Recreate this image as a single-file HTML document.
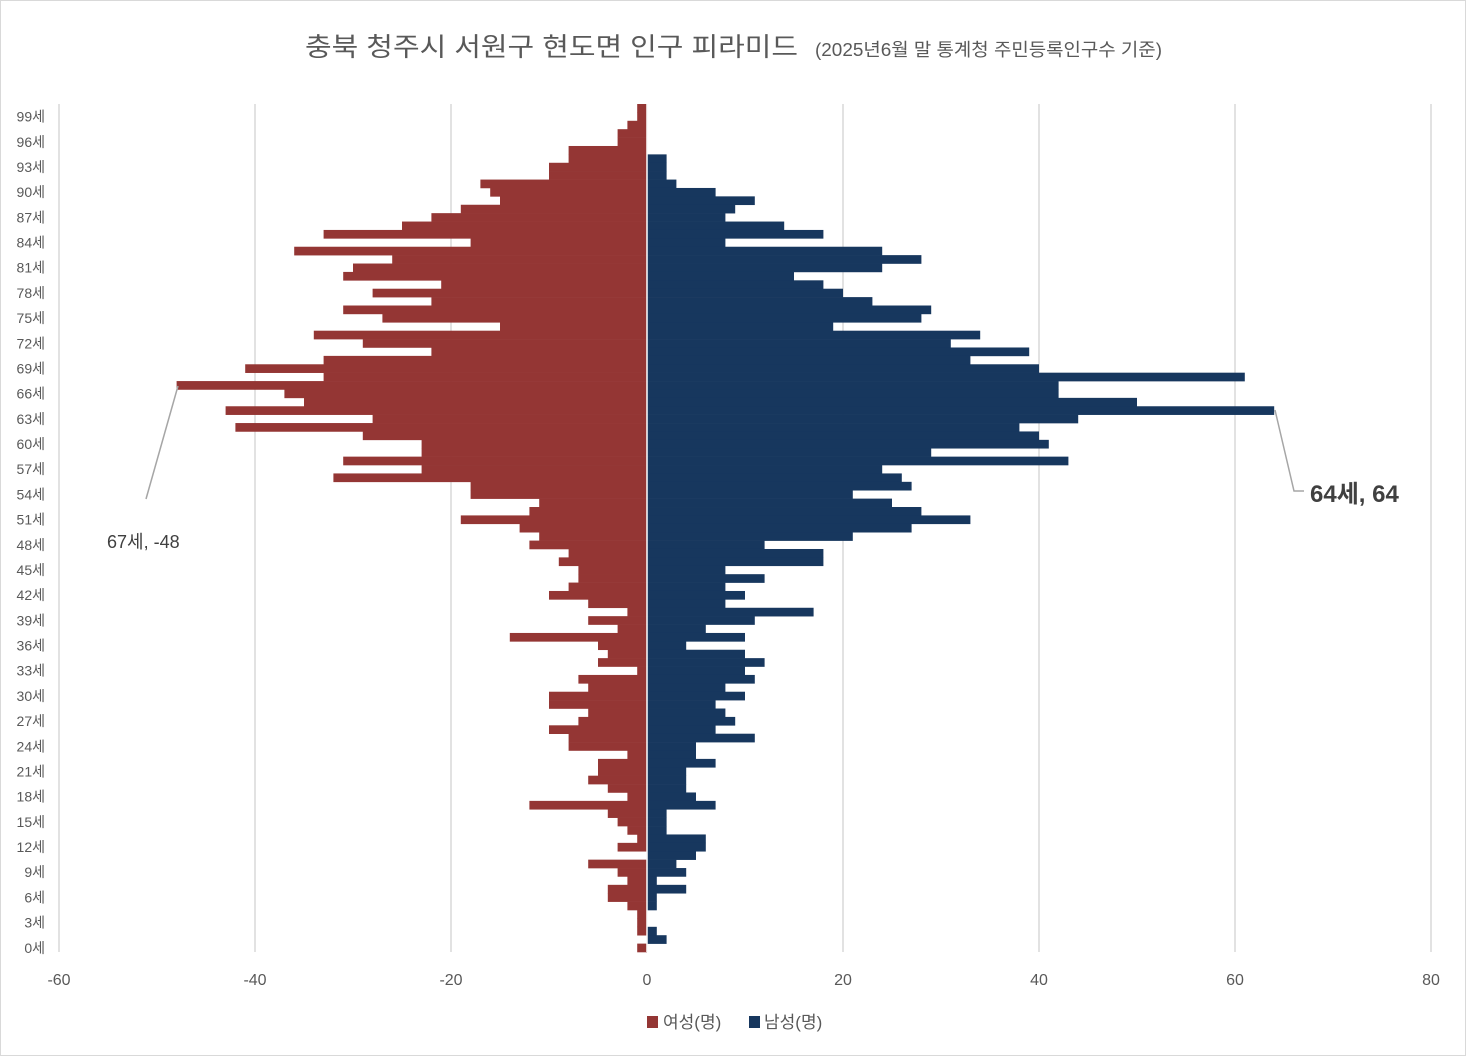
<!DOCTYPE html>
<html><head><meta charset="utf-8">
<style>
html,body{margin:0;padding:0;background:#fff;}
svg{display:block;font-family:"Liberation Sans","Noto Sans CJK KR",sans-serif;}
</style></head>
<body>
<svg id="chart" width="1466" height="1056" viewBox="0 0 1466 1056">
  <rect x="0.5" y="0.5" width="1465" height="1055" fill="#fff" stroke="#d9d9d9"/>
  <g>
    <text x="305" y="56" font-size="26" fill="#595959" textLength="493" lengthAdjust="spacingAndGlyphs">충북 청주시 서원구 현도면 인구 피라미드</text>
    <text x="815" y="56" font-size="18" fill="#595959" textLength="347" lengthAdjust="spacingAndGlyphs">(2025년6월 말 통계청 주민등록인구수 기준)</text>
  </g>
  <g id="grid"></g>
  <g id="bars"></g>
  <g id="xticks"></g>
  <g id="yticks"></g>
  <g>
    <polyline points="178,386 146,499" fill="none" stroke="#a6a6a6" stroke-width="1.5"/>
    <text x="107" y="548" font-size="18" fill="#404040">67세, -48</text>
  </g>
  <g>
    <polyline points="1275,410 1294,491 1304,491" fill="none" stroke="#a6a6a6" stroke-width="1.5"/>
    <text x="1310" y="502" font-size="24" font-weight="bold" fill="#404040">64세, 64</text>
  </g>
  <g>
    <rect x="647" y="1016" width="11" height="12" fill="#943634"/>
    <text x="663" y="1028" font-size="17" fill="#595959">여성(명)</text>
    <rect x="749" y="1016" width="11" height="12" fill="#17375e"/>
    <text x="764" y="1028" font-size="17" fill="#595959">남성(명)</text>
  </g>
</svg>
<script>
// ages listed top-to-bottom (100세 down to 0세)
const ages = [];
for (let a = 100; a >= 0; a--) ages.push(a);
const female = [-1,-1,-2,-3,-3,-8,-8,-10,-10,-17,
-16,-15,-19,-22,-25,-33,-18,-36,-26,-30,
-31,-21,-28,-22,-31,-27,-15,-34,-29,-22,
-33,-41,-33,-48,-37,-35,-43,-28,-42,-29,
-23,-23,-31,-23,-32,-18,-18,-11,-12,-19,
-13,-11,-12,-8,-9,-7,-7,-8,-10,-6,
-2,-6,-3,-14,-5,-4,-5,-1,-7,-6,
-10,-10,-6,-7,-10,-8,-8,-2,-5,-5,
-6,-4,-2,-12,-4,-3,-2,-1,-3,0,
-6,-3,-2,-4,-4,-2,-1,-1,-1,0,-1];
const male = [0,0,0,0,0,0,2,2,2,3,
7,11,9,8,14,18,8,24,28,24,
15,18,20,23,29,28,19,34,31,39,
33,40,61,42,42,50,64,44,38,40,
41,29,43,24,26,27,21,25,28,33,
27,21,12,18,18,8,12,8,10,8,
17,11,6,10,4,10,12,10,11,8,
10,7,8,9,7,11,5,5,7,4,
4,4,5,7,2,2,2,6,6,5,
3,4,1,4,1,1,0,0,1,2];
const xTicks = [-60,-40,-20,0,20,40,60,80];

const NS = "http://www.w3.org/2000/svg";
const X0 = 59, X1 = 1431, VMIN = -60, VMAX = 80;
const Y0 = 104, Y1 = 952;
const xs = v => X0 + (v - VMIN) / (VMAX - VMIN) * (X1 - X0);
const rowH = (Y1 - Y0) / ages.length;
const ys = i => Y0 + i * rowH;

const grid = document.getElementById('grid');
const xt = document.getElementById('xticks');
xTicks.forEach(t => {
  const l = document.createElementNS(NS, 'line');
  l.setAttribute('x1', xs(t)); l.setAttribute('x2', xs(t));
  l.setAttribute('y1', Y0); l.setAttribute('y2', Y1);
  l.setAttribute('stroke', '#d9d9d9'); l.setAttribute('stroke-width', '1.5');
  
  
  grid.appendChild(l);
  const tx = document.createElementNS(NS, 'text');
  tx.setAttribute('x', xs(t)); tx.setAttribute('y', 985);
  tx.setAttribute('text-anchor', 'middle'); tx.setAttribute('font-size', '16');
  tx.setAttribute('fill', '#595959');
  tx.textContent = t;
  
  
  xt.appendChild(tx);
});

const bars = document.getElementById('bars');
const zx = xs(0);
ages.forEach((a, i) => {
  const f = female[i], m = male[i];
  if (f !== 0) {
    const r = document.createElementNS(NS, 'rect');
    r.setAttribute('x', xs(f)); r.setAttribute('y', ys(i));
    r.setAttribute('width', zx - xs(f)); r.setAttribute('height', rowH + 0.3);
    r.setAttribute('fill', '#943634');
    
    
    bars.appendChild(r);
  }
  if (m !== 0) {
    const r = document.createElementNS(NS, 'rect');
    r.setAttribute('x', zx); r.setAttribute('y', ys(i));
    r.setAttribute('width', xs(m) - zx); r.setAttribute('height', rowH + 0.3);
    r.setAttribute('fill', '#17375e');
    
    
    bars.appendChild(r);
  }
});
const zl = document.createElementNS(NS, 'line');
zl.setAttribute('x1', zx); zl.setAttribute('x2', zx);
zl.setAttribute('y1', Y0); zl.setAttribute('y2', Y1);
zl.setAttribute('stroke', '#fff'); zl.setAttribute('stroke-width', '1.5');


bars.appendChild(zl);

const yt = document.getElementById('yticks');
ages.forEach((a, i) => {
  if (a % 3 !== 0) return;
  const tx = document.createElementNS(NS, 'text');
  tx.setAttribute('x', 45); tx.setAttribute('y', ys(i) + rowH / 2 + 5);
  tx.setAttribute('text-anchor', 'end'); tx.setAttribute('font-size', '14');
  tx.setAttribute('fill', '#595959');
  tx.textContent = a + '세';
  
  
  yt.appendChild(tx);
});
</script>
</body></html>
